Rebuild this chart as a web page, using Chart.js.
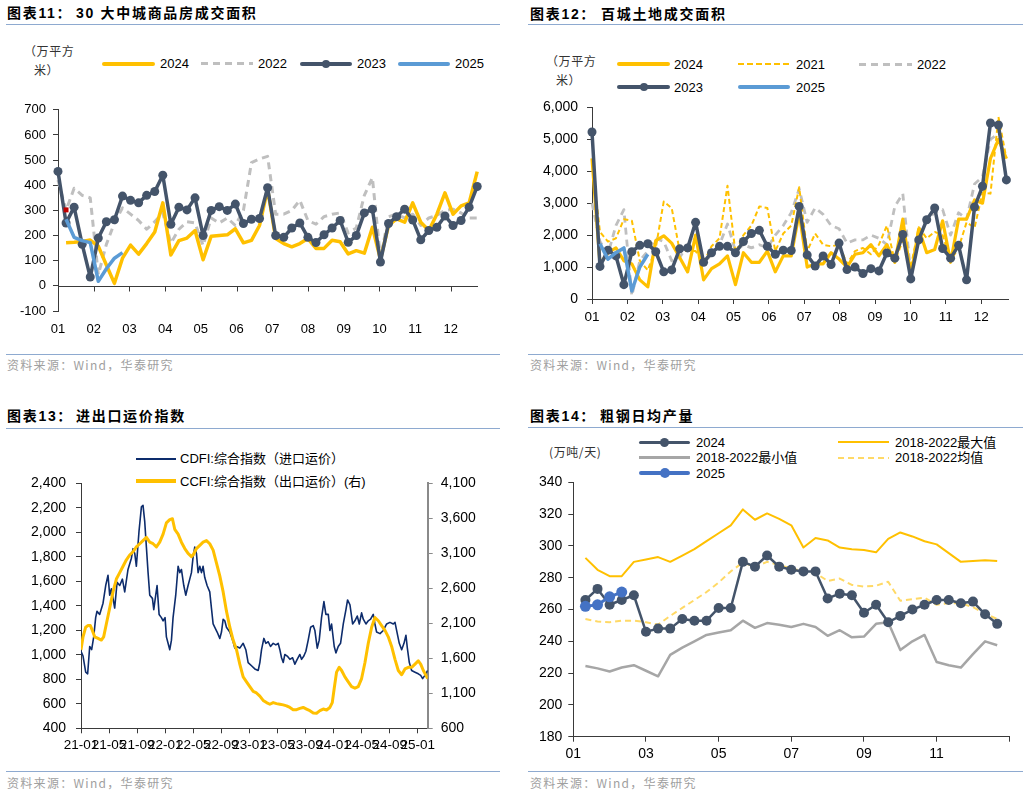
<!DOCTYPE html>
<html><head><meta charset="utf-8">
<script src="https://cdn.jsdelivr.net/npm/chart.js@4.4.1/dist/chart.umd.min.js"></script>
<style>
body{margin:0;width:1029px;height:795px;background:#fff;position:relative;overflow:hidden;font-family:"Liberation Sans",Arial,"Noto Sans CJK SC",sans-serif;}
canvas{position:absolute;}
.t{position:absolute;white-space:nowrap;line-height:1;}
.title{font-family:"Liberation Sans","Noto Sans CJK SC",sans-serif;font-weight:bold;font-size:14px;color:#000;letter-spacing:1.7px;}
.src{font-family:"Noto Sans CJK SC",sans-serif;font-size:12px;color:#a0a0a0;letter-spacing:1.3px;}
.unit{font-family:"Noto Sans CJK SC",sans-serif;font-size:12px;color:#333;letter-spacing:0.6px;}
.leg{font-family:"Liberation Sans","Noto Sans CJK SC",sans-serif;font-size:13px;color:#000;}
.hr{position:absolute;height:0;border-top:1.5px solid #8EAAD0;}
</style></head>
<body>
<script>
// ---------------- DATA ----------------
// Chart 11: 30 large/medium cities commodity housing transaction area (weekly, 10k m2)
const p1MonthLabels = ['01','02','03','04','05','06','07','08','09','10','11','12'];
const p1Y2023 = [455,250,313,165,35,190,255,263,357,340,330,360,375,440,245,313,302,350,200,300,315,300,325,248,265,268,390,200,193,230,250,193,172,203,230,260,173,200,290,305,95,248,275,305,262,183,220,233,278,240,260,313,395];
const p1Y2024 = [null,171,173,176,182,158,83,10,110,162,126,168,214,330,123,180,190,220,104,197,200,203,227,171,181,240,385,188,168,155,168,188,149,149,181,175,127,140,130,233,105,240,266,253,330,253,220,285,370,285,318,330,454];
const p1Y2022 = [420,300,388,360,350,45,165,250,310,285,260,225,255,290,170,225,255,250,160,270,250,270,240,300,490,505,515,285,285,300,340,260,245,275,285,290,210,230,360,430,110,275,285,270,285,240,270,280,300,305,290,270,270];
const p1Y2025 = [null,265,193,180,172,18,68,110,132];
const p1Mark = [null,302];

// Chart 12: 100 cities land transaction area (weekly, 10k m2)
const p2MonthLabels = ['01','02','03','04','05','06','07','08','09','10','11','12'];
const p2Y2023 = [5230,1020,1530,1350,450,1480,1680,1730,1480,850,910,1570,1600,2400,1150,1450,1650,1650,1450,1800,2050,2150,1650,1400,1530,1520,2900,1380,1030,1350,1080,1750,920,1000,800,950,880,1440,1280,2020,630,1850,2480,2850,1580,1280,1680,600,2880,3530,5510,5450,3730];
const p2Y2024 = [4400,1100,1450,1600,1200,1100,600,380,1830,1980,1750,1300,850,2000,600,950,1100,1350,450,1450,1150,1150,1500,850,1350,1350,2700,1000,1100,1100,1450,1250,1000,1400,1450,1700,1350,1700,1150,2500,700,2200,1450,1550,2450,1150,2500,2500,3100,3000,4400,5000,4400];
const p2Y2021 = [4300,2100,1800,1900,2500,2450,1200,900,1600,3050,2850,1500,1500,1500,1150,1650,1900,3550,1450,2000,2300,2900,2850,1500,2050,2300,3500,1500,2050,1700,1650,1700,1100,1500,1600,1400,1700,2300,1150,1850,1000,2250,1900,2100,2000,1200,1600,2400,2230,3330,3300,5700,4400];
const p2Y2022 = [3000,1800,1400,2300,2800,100,1200,1500,1900,1800,1200,1300,1700,1900,1100,1400,1700,2350,1500,1700,1600,1700,1600,2000,2300,2700,3450,2400,2850,2650,2300,2200,1750,1850,1850,2000,1900,1700,2900,3300,800,2100,2500,2700,2800,2000,2700,2500,3600,3830,5000,5180,null];
const p2Y2025 = [null,1730,1250,1450,1600,250,1000,1400];

// Chart 13: freight indices (x = months since 2021-01)
const p3TickLabels = ['21-01','21-05','21-09','22-01','22-05','22-09','23-01','23-05','23-09','24-01','24-05','24-09','25-01'];
const cdfiMonth = [0.00,0.29,0.67,0.95,1.24,1.52,1.81,2.09,2.28,2.66,3.14,3.52,3.85,4.09,4.33,4.80,5.14,5.52,5.90,6.23,6.70,7.18,7.42,7.66,7.89,8.27,8.61,8.84,9.08,9.32,9.56,9.80,10.18,10.37,10.65,10.84,11.13,11.46,11.70,11.98,12.17,12.41,12.65,12.89,13.12,13.50,13.84,14.08,14.31,14.65,14.93,15.26,15.50,15.74,15.98,16.21,16.45,16.69,16.93,17.17,17.40,17.64,17.97,18.35,18.59,18.83,19.07,19.40,19.78,20.02,20.26,20.49,20.73,21.21,21.68,21.92,22.16,22.63,23.11,23.49,23.82,24.30,24.77,25.25,25.49,25.73,26.06,26.34,26.68,27.01,27.39,27.77,28.10,28.34,28.58,28.82,29.05,29.39,29.77,30.15,30.48,30.81,31.19,31.43,31.76,32.05,32.38,32.72,33.10,33.33,33.67,33.95,34.28,34.62,34.90,35.24,35.47,35.71,36.09,36.33,36.66,36.99,37.38,37.76,37.99,38.33,38.71,39.04,39.37,39.66,39.99,40.23,40.61,40.94,41.27,41.65,41.89,42.13,42.61,43.08,43.56,44.03,44.51,44.75,44.98,45.36,45.70,46.03,46.31,46.51,46.79,47.12,47.60,48.07,48.41,48.69,49.02,49.41];
const cdfiValue = [1029,990,858,845,1068,1042,1147,1304,1356,1330,1422,1566,1650,1487,1540,1382,1592,1566,1618,1514,1697,1789,1867,1828,1723,2011,2208,2221,2090,1880,1671,1487,1461,1369,1487,1566,1330,1304,1278,1304,1147,1094,1042,1120,1304,1487,1723,1671,1697,1566,1487,1566,1618,1671,1802,1880,1828,1671,1723,1671,1723,1631,1566,1514,1382,1252,1225,1186,1134,1186,1291,1278,1225,1186,1107,1055,1068,1055,1094,1042,937,911,885,872,937,1042,1134,1094,1107,1068,1094,1081,1094,1042,976,937,1003,990,963,976,924,963,1003,963,990,1029,1120,1225,1238,1199,1055,1120,1304,1435,1330,1330,1199,1252,1068,1016,1068,1094,1252,1369,1448,1409,1252,1278,1317,1252,1343,1291,1252,1278,1291,1330,1252,1186,1173,1199,1252,1265,1252,1265,1199,1094,1042,1094,1160,1055,937,872,858,845,832,806,832,872];
const ccfiMonth = [0.00,0.29,0.67,1.00,1.33,1.62,1.95,2.43,2.90,3.23,3.61,4.09,4.56,5.04,5.52,5.99,6.47,6.94,7.42,7.89,8.37,8.84,9.32,9.80,10.27,10.75,11.22,11.70,12.17,12.65,13.03,13.36,13.84,14.31,14.79,15.26,15.74,15.98,16.45,16.93,17.40,17.88,18.35,18.83,19.31,19.78,20.26,20.73,21.21,21.68,22.16,22.63,23.11,23.59,24.06,24.54,25.01,25.49,25.96,26.44,26.91,27.39,27.86,28.34,28.82,29.29,29.77,30.24,30.72,31.19,31.67,32.14,32.62,33.10,33.57,34.05,34.52,35.00,35.47,35.81,36.09,36.42,36.80,37.14,37.61,38.09,38.56,39.04,39.51,39.99,40.47,40.94,41.42,41.89,42.37,42.84,43.32,43.79,44.27,44.75,45.22,45.70,46.17,46.65,47.12,47.60,48.07,48.41,48.79,49.41];
const ccfiValue = [1724,1907,2045,2068,2068,1999,1907,1884,1861,1907,2091,2320,2549,2733,2825,2916,3008,3077,3123,3192,3238,3283,3329,3260,3238,3192,3260,3375,3536,3582,3595,3444,3375,3260,3169,3100,3054,3077,3169,3215,3260,3283,3238,3146,2962,2779,2549,2274,2045,1861,1724,1517,1334,1265,1196,1127,1105,1059,999,967,944,967,953,944,935,921,898,866,866,884,898,875,852,820,816,852,875,861,898,967,1173,1403,1472,1426,1334,1265,1196,1173,1196,1311,1540,1816,2045,2183,2137,2068,1999,1907,1770,1586,1426,1366,1449,1472,1472,1517,1563,1517,1426,1311];

// Chart 14: crude steel daily output (per dekad, 10k t/day)
const p4TickLabels = ['01','03','05','07','09','11'];
const p4Y2024 = [266,273,263,266,269,246,248,248,254,253,253,261,261,290,287,294,287,285,284,284,267,270,269,258,263,252,256,260,263,266,266,264,265,257,251];
const p4Max = [292.5,285,281,281,290,291.5,293,290,294,298,303,308,313,323,316.5,320.5,317,313,299,305,303.5,299,298,297.5,296,304.5,308.5,306,303,301,295.5,290,290.5,291,290.5];
const p4Min = [224.5,223,221,223.5,225,221.5,218,231.5,236,240,244,245.5,247,253,248.5,251.5,250.5,249,251,249,243.5,247,242.5,243,251,252,234.5,240,244,227,225,223.5,232,240,237.5];
const p4Avg = [254,252.5,252,253,253,252,250.5,256,261,266,271,277,284,289.5,287,290,288,286,284,283,278,279.5,275.5,274.5,275,277.5,265.5,266.5,267.5,263,264,264,261.5,257.5,254];
const p4Y2025 = [262,263,268,271];

// ---------------- HELPERS ----------------
Chart.defaults.font.family = '"Liberation Sans", Arial, sans-serif';
Chart.defaults.color = '#000';
const AX = '#3a3a3a';

function byIndex(arr, start){ start = start||0; return arr.map((v,i)=>({x:i+start,y:v})).filter(p=>p.y!=null); }
function zipXY(xs, ys){ return xs.map((x,i)=>({x:x,y:ys[i]})); }
function canvasAt(left, top, w, h){
  const c=document.createElement('canvas'); c.width=w; c.height=h;
  c.style.left=left+'px'; c.style.top=top+'px'; c.style.width=w+'px'; c.style.height=h+'px';
  document.body.appendChild(c); return c;
}
function text(x,y,s,cls,extra){ const d=document.createElement('div'); d.className='t '+cls; d.textContent=s; d.style.left=x+'px'; d.style.top=y+'px'; if(extra) d.style.cssText+=extra; document.body.appendChild(d); return d; }
function hr(x1,x2,y){ const d=document.createElement('div'); d.className='hr'; d.style.left=x1+'px'; d.style.width=(x2-x1)+'px'; d.style.top=y+'px'; document.body.appendChild(d); }
function legLine(x1,x2,y,color,w,dash,dotR,round){
  const d=document.createElement('div');
  d.style.cssText='position:absolute;left:'+x1+'px;top:'+(y-w/2)+'px;width:'+(x2-x1)+'px;height:'+w+'px;';
  if(dash){ d.style.background='repeating-linear-gradient(90deg,'+color+' 0 '+dash[0]+'px,transparent '+dash[0]+'px '+(dash[0]+dash[1])+'px)'; }
  else { d.style.background=color; if(round) d.style.borderRadius=(w/2)+'px'; }
  document.body.appendChild(d);
  if(dotR){ const c=document.createElement('div'); c.style.cssText='position:absolute;left:'+((x1+x2)/2-dotR)+'px;top:'+(y-dotR)+'px;width:'+(2*dotR)+'px;height:'+(2*dotR)+'px;border-radius:50%;background:'+color; document.body.appendChild(c); }
}
function baseOptions(pad){
  return {responsive:false, animation:false, devicePixelRatio:1, layout:{padding:pad},
    plugins:{legend:{display:false}, tooltip:{enabled:false}},
    elements:{line:{tension:0, borderJoinStyle:'round'}, point:{radius:0, hoverRadius:0}},
    events:[] };
}
const fmt = v => Number(v).toLocaleString('en-US');

// ---------------- HEADERS / FOOTERS ----------------
text(7,6,'图表11：','title'); text(76,6,'30 大中城商品房成交面积','title');
text(530,7,'图表12：','title'); text(601,7,'百城土地成交面积','title');
text(7,409,'图表13：','title'); text(76,409,'进出口运价指数','title');
text(530,409,'图表14：','title'); text(600,409,'粗钢日均产量','title');
hr(6,500,23.5); hr(528,1023,23.5); hr(6,500,427.5); hr(528,1023,426.5);
hr(6,500,354); hr(528,1023,354); hr(6,500,771); hr(528,1023,771);
text(7,359,'资料来源：Wind，华泰研究','src'); text(530,359,'资料来源：Wind，华泰研究','src');
text(7,777,'资料来源：Wind，华泰研究','src'); text(530,777,'资料来源：Wind，华泰研究','src');

// ---------------- LEGENDS ----------------
text(24,45,'（万平方','unit'); text(34,64,'米）','unit');
legLine(102,155,63.5,'#FFC000',4,null,0,true); text(160,57,'2024','leg');
legLine(201,253,63.5,'#BFBFBF',3,[7,5]); text(258,57,'2022','leg');
legLine(300,352,63.5,'#44546A',4,null,4,true); text(357,57,'2023','leg');
legLine(398,450,63.5,'#5B9BD5',4,null,0,true); text(455,57,'2025','leg');

text(546,55,'（万平方','unit'); text(556,74,'米）','unit');
legLine(617,670,64.3,'#FFC000',4,null,0,true); text(674,58,'2024','leg');
legLine(738,790,64.3,'#FFC000',2,[6,3]); text(796,58,'2021','leg');
legLine(859,912,64.3,'#BFBFBF',3,[7,5]); text(917,58,'2022','leg');
legLine(617,670,87.3,'#44546A',4,null,4,true); text(674,81,'2023','leg');
legLine(738,790,87.3,'#5B9BD5',4,null,0,true); text(796,81,'2025','leg');

legLine(136,176,458.7,'#0D2C6C',2); text(180,452,'CDFI:综合指数（进口运价）','leg');
legLine(136,176,481,'#FFC000',4); text(180,475,'CCFI:综合指数（出口运价）(右)','leg');

text(549,445.5,'(万吨/天)','unit');
legLine(639,690,442,'#44546A',3,null,4.5,true); text(696,435.5,'2024','leg');
legLine(838,889,442,'#FFC000',2); text(895,435.5,'2018-2022最大值','leg');
legLine(639,690,457.7,'#A6A6A6',3); text(696,451.2,'2018-2022最小值','leg');
legLine(838,889,457.7,'#FFD966',2,[6,4]); text(895,451.2,'2018-2022均值','leg');
legLine(639,690,473.3,'#4472C4',4,null,5,true); text(696,466.8,'2025','leg');

// ---------------- CHART 11 ----------------
const zeroAxis = {id:'zeroAxis', beforeDatasetsDraw(chart){
  const {ctx, chartArea:a, scales:{x,y}} = chart; const y0=Math.round(y.getPixelForValue(0))+0.5;
  ctx.save(); ctx.strokeStyle=AX; ctx.lineWidth=1; ctx.beginPath(); ctx.moveTo(a.left,y0); ctx.lineTo(a.right,y0);
  x.ticks.forEach(t=>{ const px=Math.round(x.getPixelForValue(t.value))+0.5; ctx.moveTo(px,y0); ctx.lineTo(px,y0+5); });
  ctx.stroke(); ctx.restore(); }};
(function(){
  const c = canvasAt(0,95,490,250);
  const o = baseOptions({top:10,right:12,left:0,bottom:0});
  o.scales = {
    x:{type:'linear',min:0,max:52.1,
      afterBuildTicks:s=>{ s.ticks=p1MonthLabels.map((_,i)=>({value:i*4.43})); },
      ticks:{callback:(v,i)=>p1MonthLabels[i],autoSkip:false,maxRotation:0,minRotation:0,padding:11,font:{size:13}},
      grid:{display:false,drawTicks:false}, border:{display:false}, afterFit:s=>{s.height=34;}},
    y:{min:-100,max:700,ticks:{stepSize:100,padding:7,font:{size:13}},
      grid:{drawOnChartArea:false,drawTicks:true,tickLength:5,color:AX}, border:{color:AX}, afterFit:s=>{s.width=58;}}
  };
  new Chart(c,{type:'line',data:{datasets:[
    {data:byIndex(p1Mark),showLine:false,pointRadius:3.5,pointStyle:'rect',pointBackgroundColor:'#C00000',pointBorderWidth:0,order:0,clip:false},
    {data:byIndex(p1Y2025),borderColor:'#5B9BD5',borderWidth:3.5,order:1,clip:false},
    {data:byIndex(p1Y2023),borderColor:'#44546A',borderWidth:3.5,pointRadius:4.5,pointBackgroundColor:'#44546A',pointBorderWidth:0,order:2,clip:false},
    {data:byIndex(p1Y2024),borderColor:'#FFC000',borderWidth:3.5,order:3,clip:false},
    {data:byIndex(p1Y2022),borderColor:'#BFBFBF',borderWidth:3,borderDash:[7,5],order:4,clip:false}
  ]},options:o,plugins:[zeroAxis]});
})();

// ---------------- CHART 12 ----------------
(function(){
  const c = canvasAt(520,90,500,250);
  const o = baseOptions({top:9,right:12,left:0,bottom:0});
  o.scales = {
    x:{type:'linear',min:0,max:52.2,
      afterBuildTicks:s=>{ s.ticks=p2MonthLabels.map((_,i)=>({value:i*4.44})); },
      ticks:{callback:(v,i)=>p2MonthLabels[i],autoSkip:false,maxRotation:0,minRotation:0,padding:5,font:{size:13.5}},
      grid:{drawOnChartArea:false,drawTicks:true,tickLength:5,color:AX}, border:{color:AX}, afterFit:s=>{s.height=41;}},
    y:{min:0,max:6000,ticks:{stepSize:1000,padding:9,font:{size:14},callback:fmt},
      grid:{drawOnChartArea:false,drawTicks:true,tickLength:5,color:AX}, border:{color:AX}, afterFit:s=>{s.width=72;}}
  };
  new Chart(c,{type:'line',data:{datasets:[
    {data:byIndex(p2Y2025),borderColor:'#5B9BD5',borderWidth:3.5,order:1,clip:false},
    {data:byIndex(p2Y2023),borderColor:'#44546A',borderWidth:3.5,pointRadius:4.5,pointBackgroundColor:'#44546A',pointBorderWidth:0,order:2,clip:false},
    {data:byIndex(p2Y2024),borderColor:'#FFC000',borderWidth:3.2,order:3,clip:false},
    {data:byIndex(p2Y2021),borderColor:'#FFC000',borderWidth:2,borderDash:[5,3],order:4,clip:false},
    {data:byIndex(p2Y2022),borderColor:'#BFBFBF',borderWidth:2.8,borderDash:[7,5],order:5,clip:false}
  ]},options:o});
})();

// ---------------- CHART 13 ----------------
(function(){
  const c = canvasAt(0,465,480,305);
  const o = baseOptions({top:9,right:0,left:0,bottom:0});
  o.scales = {
    x:{type:'linear',min:0,max:49.41,
      afterBuildTicks:s=>{ s.ticks=p3TickLabels.map((_,i)=>({value:i*4})); },
      ticks:{callback:(v,i)=>p3TickLabels[i],autoSkip:false,maxRotation:0,minRotation:0,padding:4,font:{size:13.5}},
      grid:{drawOnChartArea:false,drawTicks:true,tickLength:5,color:AX}, border:{color:AX}, afterFit:s=>{s.height=41.7;}},
    yL:{position:'left',min:400,max:2400,ticks:{stepSize:200,padding:10,font:{size:14},callback:fmt},
      grid:{drawOnChartArea:false,drawTicks:true,tickLength:5,color:AX}, border:{color:AX}, afterFit:s=>{s.width=81;}},
    yR:{position:'right',min:600,max:4100,ticks:{stepSize:500,padding:8,font:{size:14},callback:fmt},
      grid:{drawOnChartArea:false,drawTicks:true,tickLength:5,color:'#8a8a8a'}, border:{color:'#8a8a8a',width:2}, afterFit:s=>{s.width=52.3;}}
  };
  new Chart(c,{type:'line',data:{datasets:[
    {data:zipXY(ccfiMonth,ccfiValue),yAxisID:'yR',borderColor:'#FFC000',borderWidth:3,order:1},
    {data:zipXY(cdfiMonth,cdfiValue),yAxisID:'yL',borderColor:'#0D2C6C',borderWidth:1.6,order:2}
  ]},options:o});
})();

// ---------------- CHART 14 ----------------
(function(){
  const c = canvasAt(520,468,500,300);
  const o = baseOptions({top:9.3,right:10.7,left:0,bottom:0});
  o.scales = {
    x:{type:'linear',min:0,max:36,
      afterBuildTicks:s=>{ s.ticks=[0,1,2,3,4,5,6].map(i=>({value:i*6})); },
      ticks:{callback:(v,i)=>p4TickLabels[i]||'',autoSkip:false,maxRotation:0,minRotation:0,padding:4,font:{size:14}},
      grid:{drawOnChartArea:false,drawTicks:true,tickLength:5,color:AX}, border:{color:AX}, afterFit:s=>{s.height=31.3;}},
    y:{min:180,max:340,ticks:{stepSize:20,padding:6,font:{size:14}},
      grid:{drawOnChartArea:false,drawTicks:true,tickLength:5,color:AX}, border:{color:AX}, afterFit:s=>{s.width=53.3;}}
  };
  new Chart(c,{type:'line',data:{datasets:[
    {data:byIndex(p4Y2025,1),borderColor:'#4472C4',borderWidth:3,pointRadius:5.5,pointBackgroundColor:'#4472C4',pointBorderWidth:0,order:1,clip:false},
    {data:byIndex(p4Y2024,1),borderColor:'#44546A',borderWidth:2.5,pointRadius:5,pointBackgroundColor:'#44546A',pointBorderWidth:0,order:2,clip:false},
    {data:byIndex(p4Avg,1),borderColor:'#FFD966',borderWidth:2,borderDash:[6,4],order:3,clip:false},
    {data:byIndex(p4Max,1),borderColor:'#FFC000',borderWidth:2,order:4,clip:false},
    {data:byIndex(p4Min,1),borderColor:'#A6A6A6',borderWidth:2.5,order:5,clip:false}
  ]},options:o});
})();
</script>
</body></html>
